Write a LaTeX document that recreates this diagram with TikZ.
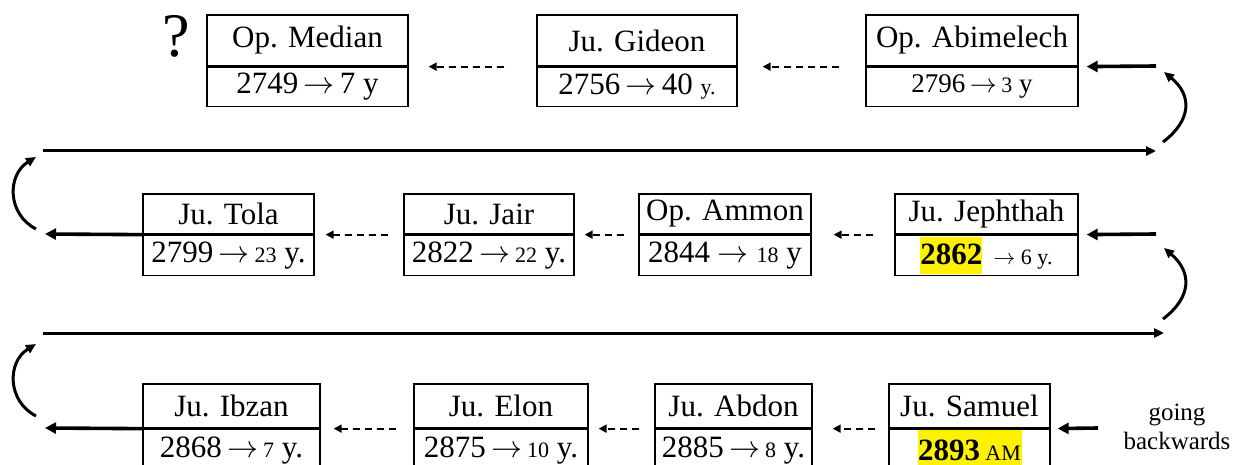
\RequirePackage{fix-cm}
\documentclass[tikz,border=0pt]{standalone}
\usepackage{fontspec}
\setmainfont{Liberation Serif}
\usetikzlibrary{arrows.meta, positioning}

\newcommand{\bigf}{\fontsize{31}{33}\selectfont}
\newcommand{\midf}{\fontsize{27}{30}\selectfont}
\newcommand{\smf}{\fontsize{22}{24}\selectfont}
\newcommand{\ar}{$\rightarrow$}
\newcommand{\marktext}[3]{{\setlength{\fboxsep}{0pt}\colorbox{yellow}{\rule[-#2]{0pt}{#3}#1}}}

\begin{document}
\begin{tikzpicture}[x=1pt, y=-1pt,
  cell/.style={draw, line width=1.3pt, inner sep=0pt, font=\bigf},
  dasharr/.style={line width=1.8pt, dash pattern=on 7pt off 5pt, -{Triangle[length=8pt,width=8pt]}},
  thickarr/.style={line width=3.6pt, -{Triangle[length=11pt,width=11pt]}},
  longarr/.style={line width=3pt, -{Triangle[length=10pt,width=9pt]}},
  looparr/.style={line width=3pt, -{Triangle[length=10pt,width=9pt]}}]
\useasboundingbox (0,0) rectangle (1243,465);
\clip (0,0) rectangle (1243,465);

% Top row
\node[font=\fontsize{62}{64}\selectfont] (q) at (176,36) {?};
\node[cell, minimum width=201, minimum height=51] (med) at (307.5,40.5) {Op. Median};
\node[cell, minimum width=201, minimum height=39, below=0pt of med] (medn) {2749\,\ar\,7 y};
\node[cell, minimum width=200, minimum height=51] (gid) at (637,40.5) {Ju. Gideon};
\node[cell, minimum width=200, minimum height=39, below=0pt of gid] (gidn) {2756\,\ar\,40 {\smf y.}};
\node[cell, minimum width=212, minimum height=51] (abi) at (972,40.5) {Op. Abimelech};
\node[cell, minimum width=212, minimum height=39, below=0pt of abi, font=\midf] (abin) {2796\,\ar\,{\smf 3} y};

\draw[dasharr, shorten <=32pt, shorten >=20pt] (gid.south west) -- (med.south east);
\draw[dasharr, shorten <=26pt, shorten >=25pt] (abi.south west) -- (gid.south east);

% Middle row
\node[cell, minimum width=171, minimum height=40] (tol) at (228.5,214) {Ju. Tola};
\node[cell, minimum width=171, minimum height=40, below=0pt of tol] (toln) {2799\,\ar\,{\smf 23} y.};
\node[cell, minimum width=170, minimum height=40] (jai) at (489,214) {Ju. Jair};
\node[cell, minimum width=170, minimum height=40, below=0pt of jai] (jain) {2822\,\ar\,{\smf 22} y.};
\node[cell, minimum width=172, minimum height=40] (amm) at (725,214) {Op. Ammon};
\node[cell, minimum width=172, minimum height=40, below=0pt of amm] (ammn) {2844 \ar{} {\smf 18} y};
\node[cell, minimum width=183, minimum height=40] (jep) at (986.5,214) {Ju. Jephthah};
\node[cell, minimum width=183, minimum height=40, below=0pt of jep] (jepn) {\marktext{\textbf{2862}}{9pt}{37pt}\hspace{11pt}{\smf \ar{} 6 y.}};

\draw[dasharr, shorten <=15pt, shorten >=11pt] (jai.south west) -- (tol.south east);
\draw[dasharr, shorten <=14pt, shorten >=10pt] (amm.south west) -- (jai.south east);
\draw[dasharr, shorten <=21pt, shorten >=22pt] (jep.south west) -- (amm.south east);

% Bottom row
\fill[yellow] (918,429) rectangle (1022,466);
\node[cell, minimum width=177, minimum height=44] (ibz) at (231.5,406) {Ju. Ibzan};
\node[cell, minimum width=177, minimum height=42, below=0pt of ibz] (ibzn) {2868\,\ar\,{\smf 7} y.};
\node[cell, minimum width=174, minimum height=44] (elo) at (501,406) {Ju. Elon};
\node[cell, minimum width=174, minimum height=42, below=0pt of elo] (elon) {2875\,\ar\,{\smf 10} y.};
\node[cell, minimum width=157, minimum height=44] (abd) at (733.5,406) {Ju. Abdon};
\node[cell, minimum width=157, minimum height=42, below=0pt of abd] (abdn) {2885\,\ar\,{\smf 8} y.};
\node[cell, minimum width=161, minimum height=44] (sam) at (969.5,406) {Ju. Samuel};
\node[cell, minimum width=161, minimum height=42, below=0pt of sam] (samn) {\textbf{2893}\,{\smf AM}};
\node[font=\fontsize{25}{29}\selectfont, align=center] (back) at (1177,427) {going\\backwards};

\draw[dasharr, shorten <=17pt, shorten >=13pt] (elo.south west) -- (ibz.south east);
\draw[dasharr, shorten <=15pt, shorten >=10pt] (abd.south west) -- (elo.south east);
\draw[dasharr, shorten <=13pt, shorten >=20pt] (sam.south west) -- (abd.south east);

% Thick arrows in and out
\coordinate (inA) at (1156,66);
\coordinate (inJ) at (1156,234);
\coordinate (inS) at (1098,428);
\coordinate (outT) at (45,234);
\coordinate (outI) at (45,428);
\draw[thickarr, shorten >=8pt] (inA) -- (abi.south east);
\draw[thickarr, shorten >=8pt] (inJ) -- (jep.south east);
\draw[thickarr, shorten >=7pt] (inS) -- (sam.south east);
\draw[thickarr] (tol.south west) -- (outT);
\draw[thickarr] (ibz.south west) -- (outI);

% Long lines and loops
\coordinate (l1a) at (43,151);
\coordinate (l1b) at (1156,151);
\coordinate (l2a) at (43,333);
\coordinate (l2b) at (1164,333);
\draw[longarr] (l1a) -- (l1b);
\draw[longarr] (l2a) -- (l2b);
\draw[looparr] (1163,142) .. controls (1192,120) and (1192,95) .. (1164,72);
\draw[looparr] (1163,319) .. controls (1192,297) and (1192,272) .. (1164,248);
\draw[looparr] (36,229) .. controls (7,214) and (7,175) .. (36,157);
\draw[looparr] (36,416) .. controls (7,401) and (7,362) .. (36,344);

\end{tikzpicture}
\end{document}
